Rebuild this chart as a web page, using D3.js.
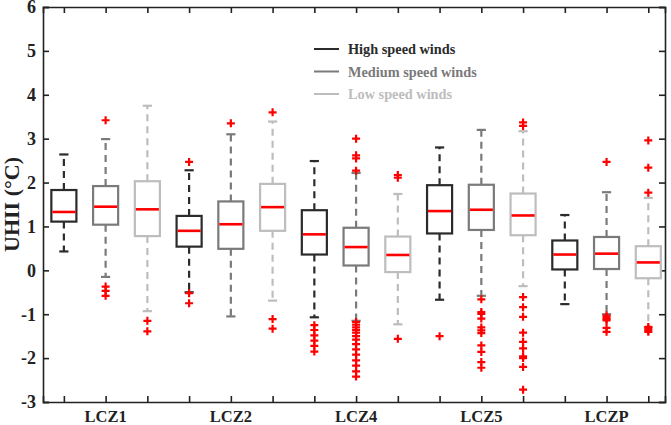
<!DOCTYPE html>
<html>
<head>
<meta charset="utf-8">
<script src="https://cdn.jsdelivr.net/npm/d3@7"></script>
<style>
  body { margin: 0; background: #fff; }
  text { font-family: "Liberation Serif", "Times New Roman", serif; font-weight: bold; }
</style>
</head>
<body>
<div id="chart"></div>
<script>
// categories and series
var zones = ["LCZ1", "LCZ2", "LCZ4", "LCZ5", "LCZP"];
var seriesNames = ["High speed winds", "Medium speed winds", "Low speed winds"];
var seriesColors = ["#2b2b2b", "#7a7a7a", "#bdbdbd"];
var yTicks = [6, 5, 4, 3, 2, 1, 0, -1, -2, -3];

// [lower whisker, q1, median, q3, upper whisker] per zone
var highStats = [
    [0.43, 1.11, 1.33, 1.83, 2.64],
    [-0.5, 0.54, 0.9, 1.24, 2.28],
    [-1.07, 0.36, 0.82, 1.37, 2.49],
    [-0.67, 0.84, 1.35, 1.94, 2.8],
    [-0.77, 0.02, 0.36, 0.68, 1.26]
];
var mediumStats = [
    [-0.15, 1.04, 1.45, 1.92, 2.99],
    [-1.05, 0.49, 1.05, 1.57, 3.1],
    [-1.15, 0.11, 0.53, 0.97, 2.22],
    [-0.58, 0.92, 1.38, 1.95, 3.2],
    [-1.0, 0.03, 0.38, 0.76, 1.78]
];
var lowStats = [
    [-0.93, 0.78, 1.39, 2.03, 3.75],
    [-0.69, 0.9, 1.44, 1.97, 3.39],
    [-1.23, -0.04, 0.35, 0.77, 1.74],
    [-0.36, 0.8, 1.25, 1.75, 3.17],
    [-1.3, -0.18, 0.18, 0.55, 1.65]
];

// outliers per zone
var highOutliers = [
    [],
    [2.47, -0.52, -0.75],
    [-1.25, -1.36, -1.48, -1.6, -1.72, -1.85],
    [-1.5],
    []
];
var mediumOutliers = [
    [3.42, -0.37, -0.47, -0.58],
    [3.35],
    [3.0, 2.62, 2.55, 2.27, -1.18, -1.24, -1.3, -1.36, -1.42, -1.5, -1.58, -1.68, -1.8, -1.92, -2.05, -2.17, -2.3, -2.42],
    [-0.66, -0.95, -0.99, -1.1, -1.3, -1.37, -1.43, -1.71, -1.86, -2.09, -2.22],
    [2.47, -1.03, -1.07, -1.11, -1.14, -1.31, -1.4]
];
var lowOutliers = [
    [-1.15, -1.39],
    [3.6, -1.11, -1.33],
    [2.17, 2.11, -1.56],
    [3.37, 3.29, -0.61, -0.84, -1.06, -1.42, -1.63, -1.78, -1.96, -2.0, -2.2, -2.72],
    [2.96, 2.34, 1.77, -1.29, -1.33, -1.37, -1.4]
];

var allStats = [highStats, mediumStats, lowStats];
var allOutliers = [highOutliers, mediumOutliers, lowOutliers];

var width = 671, height = 425;
var margin = { top: 7, right: 6, bottom: 23, left: 43 };

var svg = d3.select("#chart").append("svg")
    .attr("width", width)
    .attr("height", height);

var x = d3.scaleLinear().domain([0.5, 15.4]).range([margin.left, width - margin.right]);
var y = d3.scaleLinear().domain([-3, 6]).range([height - margin.bottom, margin.top]);

var boxes = [];
zones.forEach(function (z, zi) {
    seriesNames.forEach(function (s, si) {
        var st = allStats[si][zi];
        boxes.push({
            pos: zi * 3 + si + 1,
            color: seriesColors[si],
            lo: st[0], q1: st[1], med: st[2], q3: st[3], hi: st[4],
            out: allOutliers[si][zi]
        });
    });
});
var positions = boxes.map(function (d) { return d.pos; });

// frame axes
var tickLen = 6;
function styleAxis(g) {
    g.selectAll("path, line").attr("stroke", "#222").attr("stroke-width", 1.6);
}
svg.append("g")
    .attr("transform", "translate(" + margin.left + ",0)")
    .call(d3.axisRight(y).tickValues(yTicks).tickSize(tickLen).tickFormat(""))
    .call(styleAxis);
svg.append("g")
    .attr("transform", "translate(" + (width - margin.right) + ",0)")
    .call(d3.axisLeft(y).tickValues(yTicks).tickSize(tickLen).tickFormat(""))
    .call(styleAxis);
svg.append("g")
    .attr("transform", "translate(0," + (height - margin.bottom) + ")")
    .call(d3.axisTop(x).tickValues(positions).tickSize(tickLen).tickFormat(""))
    .call(styleAxis);
svg.append("g")
    .attr("transform", "translate(0," + margin.top + ")")
    .call(d3.axisBottom(x).tickValues(positions).tickSize(tickLen).tickFormat(""))
    .call(styleAxis);

// y tick labels
svg.selectAll(".ylab").data(yTicks).enter().append("text")
    .attr("x", margin.left - 7)
    .attr("y", function (d) { return y(d); })
    .attr("dy", "0.35em")
    .attr("text-anchor", "end")
    .attr("font-size", 18)
    .attr("fill", "#222")
    .text(function (d) { return d; });

// category labels
svg.selectAll(".xlab").data(zones).enter().append("text")
    .attr("x", function (d, i) { return x(i * 3 + 2); })
    .attr("y", height - 3)
    .attr("text-anchor", "middle")
    .attr("font-size", 16.5)
    .attr("fill", "#222")
    .text(function (d) { return d; });

svg.append("text")
    .attr("transform", "translate(19," + y(1.5) + ") rotate(-90)")
    .attr("text-anchor", "middle")
    .attr("font-size", 22)
    .attr("fill", "#222")
    .text("UHII (°C)");

// boxes
var boxW = x(0.6) - x(0);
var capW = x(0.22) - x(0);
var g = svg.selectAll(".box").data(boxes).enter().append("g");

g.append("line")
    .attr("x1", function (d) { return x(d.pos); })
    .attr("x2", function (d) { return x(d.pos); })
    .attr("y1", function (d) { return y(d.q3); })
    .attr("y2", function (d) { return y(d.hi); })
    .attr("stroke", function (d) { return d.color; })
    .attr("stroke-width", 2.2)
    .attr("stroke-dasharray", "7,5");
g.append("line")
    .attr("x1", function (d) { return x(d.pos); })
    .attr("x2", function (d) { return x(d.pos); })
    .attr("y1", function (d) { return y(d.q1); })
    .attr("y2", function (d) { return y(d.lo); })
    .attr("stroke", function (d) { return d.color; })
    .attr("stroke-width", 2.2)
    .attr("stroke-dasharray", "7,5");
["hi", "lo"].forEach(function (k) {
    g.append("line")
        .attr("x1", function (d) { return x(d.pos) - capW / 2; })
        .attr("x2", function (d) { return x(d.pos) + capW / 2; })
        .attr("y1", function (d) { return y(d[k]); })
        .attr("y2", function (d) { return y(d[k]); })
        .attr("stroke", function (d) { return d.color; })
        .attr("stroke-width", 2.2);
});
g.append("rect")
    .attr("x", function (d) { return x(d.pos) - boxW / 2; })
    .attr("y", function (d) { return y(d.q3); })
    .attr("width", boxW)
    .attr("height", function (d) { return y(d.q1) - y(d.q3); })
    .attr("fill", "#fff")
    .attr("stroke", function (d) { return d.color; })
    .attr("stroke-width", 2.2);
g.append("line")
    .attr("x1", function (d) { return x(d.pos) - boxW / 2 + 1; })
    .attr("x2", function (d) { return x(d.pos) + boxW / 2 - 1; })
    .attr("y1", function (d) { return y(d.med); })
    .attr("y2", function (d) { return y(d.med); })
    .attr("stroke", "#ff0000")
    .attr("stroke-width", 2.6);

// outliers
var plus = 4;
g.selectAll(".out").data(function (d) {
    return d.out.map(function (v) { return { pos: d.pos, v: v }; });
}).enter().append("path")
    .attr("d", function (d) {
        var cx = x(d.pos), cy = y(d.v);
        return "M" + (cx - plus) + "," + cy + "H" + (cx + plus) + "M" + cx + "," + (cy - plus) + "V" + (cy + plus);
    })
    .attr("stroke", "#ff0000")
    .attr("stroke-width", 2.2)
    .attr("fill", "none");

// legend
var legend = svg.append("g").attr("transform", "translate(314,49)");
seriesNames.forEach(function (s, i) {
    legend.append("line")
        .attr("x1", 0).attr("x2", 25)
        .attr("y1", i * 22.5).attr("y2", i * 22.5)
        .attr("stroke", seriesColors[i])
        .attr("stroke-width", 2);
    legend.append("text")
        .attr("x", 34)
        .attr("y", i * 22.5)
        .attr("dy", "0.35em")
        .attr("font-size", 14.3)
        .attr("fill", seriesColors[i])
        .text(s);
});
</script>
</body>
</html>
